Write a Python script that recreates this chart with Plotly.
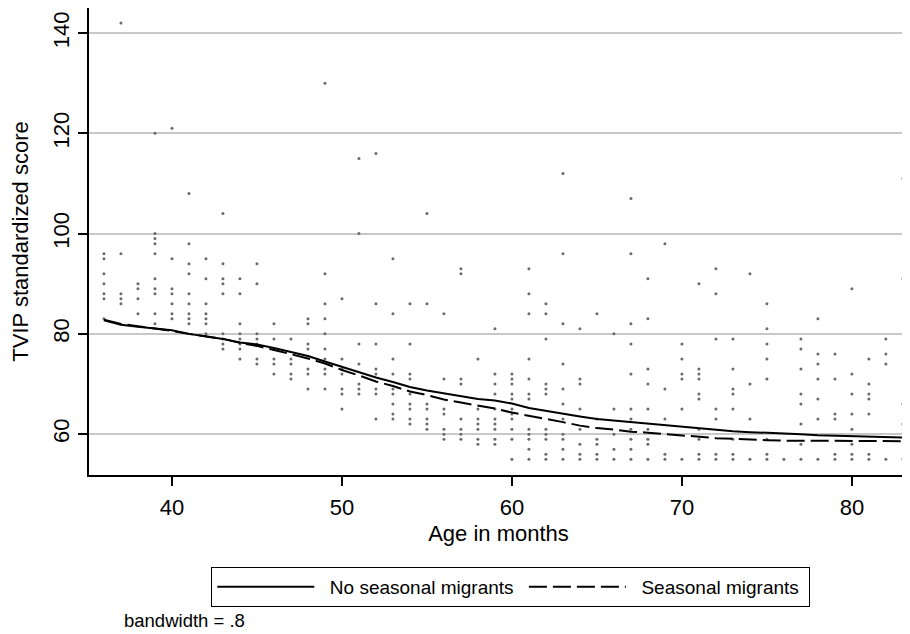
import plotly.graph_objects as go

# ---------------- data ----------------
ages = list(range(36, 84))
scores_by_age = [
    [96, 95, 92, 90, 88, 87, 83],                      # 36
    [142, 96, 88, 87, 86],                             # 37
    [90, 89, 87, 84],                                  # 38
    [120, 100, 99, 98, 96, 91, 89, 88, 84, 82],        # 39
    [121, 95, 89, 88, 86, 84, 83],                     # 40
    [108, 98, 94, 92, 88, 86, 84, 83, 82],             # 41
    [95, 91, 86, 84, 83, 82, 80],                      # 42
    [104, 94, 91, 90, 88, 80, 79, 78, 77],             # 43
    [91, 88, 82, 80, 79, 78, 77, 75],                  # 44
    [94, 90, 80, 79, 78, 75, 74],                      # 45
    [82, 79, 75, 74, 72],                              # 46
    [79, 75, 74, 72, 71],                              # 47
    [83, 82, 78, 77, 73, 72, 69],                      # 48
    [130, 92, 86, 83, 80, 77, 75, 73, 72, 69],         # 49
    [87, 75, 73, 72, 69, 68, 65],                      # 50
    [115, 100, 78, 74, 70, 69, 68],                    # 51
    [116, 86, 78, 73, 72, 69, 68, 63],                 # 52
    [95, 84, 75, 72, 69, 68, 66, 64, 63],              # 53
    [86, 78, 72, 71, 68, 66, 65, 63, 62],              # 54
    [104, 86, 66, 65, 63, 62, 61],                     # 55
    [84, 71, 65, 64, 61, 60, 59],                      # 56
    [93, 92, 71, 70, 63, 61, 60, 59],                  # 57
    [75, 65, 63, 62, 61, 59, 58],                      # 58
    [81, 72, 70, 68, 65, 63, 62, 61, 59, 58],          # 59
    [72, 71, 70, 68, 67, 65, 64, 63, 61, 59, 55],      # 60
    [93, 88, 84, 75, 71, 68, 67, 61, 60, 59, 57, 55],  # 61
    [86, 84, 79, 70, 69, 68, 61, 60, 59, 56, 55],      # 62
    [112, 96, 82, 74, 69, 66, 63, 60, 59, 57, 55],     # 63
    [81, 71, 70, 65, 61, 58, 56, 55],                  # 64
    [84, 63, 59, 58, 56, 55],                          # 65
    [80, 65, 60, 57, 55],                              # 66
    [107, 96, 82, 78, 72, 65, 63, 61, 59, 57, 55],     # 67
    [91, 83, 73, 70, 65, 61, 59, 58, 55],              # 68
    [98, 69, 63, 56, 55],                              # 69
    [78, 75, 72, 71, 65, 55],                          # 70
    [90, 73, 72, 71, 68, 67, 61, 59, 56, 55],          # 71
    [93, 88, 79, 65, 63, 56, 55],                      # 72
    [79, 73, 69, 68, 65, 59, 56, 55],                  # 73
    [92, 70, 63, 55],                                  # 74
    [86, 81, 78, 75, 71, 59, 56, 55],                  # 75
    [55],                                              # 76
    [79, 77, 73, 68, 66, 62, 58, 55],                  # 77
    [83, 76, 74, 71, 67, 63, 55],                      # 78
    [76, 71, 64, 63, 56, 55],                          # 79
    [89, 72, 68, 64, 61, 58, 56, 55],                  # 80
    [75, 70, 68, 67, 64, 56, 55],                      # 81
    [79, 76, 74, 55],                                  # 82
    [111, 91, 66, 62, 55],                             # 83
]

fit_ages = list(range(36, 84))
fit_no_migrants = [
    82.7, 81.8, 81.4, 81.1, 80.7, 80.0, 79.5, 79.0, 78.3, 77.9,
    77.2, 76.4, 75.6, 74.5, 73.4, 72.4, 71.3, 70.4, 69.4, 68.7,
    68.1, 67.5, 67.0, 66.7, 66.1, 65.2, 64.6, 64.1, 63.5, 63.0,
    62.7, 62.3, 62.0, 61.7, 61.4, 61.1, 60.9, 60.6, 60.4, 60.3,
    60.1, 60.0, 59.8, 59.7, 59.5, 59.4, 59.3, 59.3,
]
fit_migrants = [
    82.8, 82.0, 81.5, 81.1, 80.6, 80.0, 79.5, 79.0, 78.2, 77.6,
    76.8, 76.0, 75.1, 74.1, 72.8, 71.7, 70.5, 69.6, 68.5, 67.8,
    66.9, 66.3, 65.7, 65.1, 64.3, 63.7, 63.0, 62.4, 61.7, 61.2,
    60.9, 60.5, 60.3, 60.0, 59.7, 59.4, 59.2, 59.1, 58.9, 58.8,
    58.7, 58.7, 58.6, 58.6, 58.6, 58.6, 58.6, 58.6,
]

x_ticks = [40, 50, 60, 70, 80]
y_ticks = [60, 80, 100, 120, 140]
series_names = ["No seasonal migrants", "Seasonal migrants"]
x_title = "Age in months"
y_title = "TVIP standardized score"
note_text = "bandwidth = .8"

# ---------------- build ----------------
pts_x, pts_y = [], []
for a, vals in zip(ages, scores_by_age):
    for v in vals:
        pts_x.append(a)
        pts_y.append(v)

FONT = "Liberation Sans, Arial, Helvetica, sans-serif"
NB = "\u00a0"

fig = go.Figure()
fig.add_trace(go.Scatter(
    x=pts_x, y=pts_y, mode="markers", showlegend=False,
    marker=dict(size=3, color="#6a6a6a", line=dict(width=0)),
    hoverinfo="skip",
))
fig.add_trace(go.Scatter(
    x=fit_ages, y=fit_no_migrants, mode="lines",
    name=NB * 2 + series_names[0] + NB,
    line=dict(color="black", width=2),
))
fig.add_trace(go.Scatter(
    x=fit_ages, y=fit_migrants, mode="lines",
    name=NB * 2 + series_names[1] + NB,
    line=dict(color="black", width=2, dash="18px,6px"),
))

# the page body adds an 8px offset, so the figure is 8px smaller than the window
fig.update_layout(
    width=902, height=626,
    margin=dict(l=81, r=2, t=0, b=159, autoexpand=False),
    paper_bgcolor="white", plot_bgcolor="white",
    font=dict(family=FONT, color="black"),
    showlegend=True,
    legend=dict(
        orientation="h", x=0.515, xanchor="center", y=-0.197, yanchor="top",
        bordercolor="black", borderwidth=1, bgcolor="white",
        font=dict(family=FONT, size=19, color="black"),
        itemwidth=97,
        traceorder="normal",
    ),
    annotations=[dict(
        text=note_text, xref="paper", yref="paper", x=0.040, y=-0.3105,
        xanchor="left", yanchor="middle", showarrow=False,
        font=dict(family=FONT, size=18.5, color="black"),
    )],
)

fig.update_xaxes(
    range=[35.12, 83.3], tickvals=x_ticks, ticktext=[str(t) for t in x_ticks],
    showgrid=False, zeroline=False,
    showline=True, linecolor="black", linewidth=1.5,
    ticks="outside", ticklen=9, tickwidth=1.5, tickcolor="black",
    tickfont=dict(family=FONT, size=22, color="black"),
    ticklabelstandoff=3,
    title=dict(text=x_title, font=dict(family=FONT, size=22, color="black"), standoff=6),
    automargin=False,
)
fig.update_yaxes(
    range=[51.85, 145.0], tickvals=y_ticks, ticktext=[str(t) for t in y_ticks],
    showgrid=True, gridcolor="#c8c8c8", gridwidth=2, zeroline=False,
    showline=True, linecolor="black", linewidth=1.5,
    ticks="outside", ticklen=9, tickwidth=1.5, tickcolor="black",
    tickangle=-90,
    tickfont=dict(family=FONT, size=22, color="black"),
    title=dict(text=y_title, font=dict(family=FONT, size=22, color="black"), standoff=18),
    automargin=False,
)

fig.write_html("out.html")
